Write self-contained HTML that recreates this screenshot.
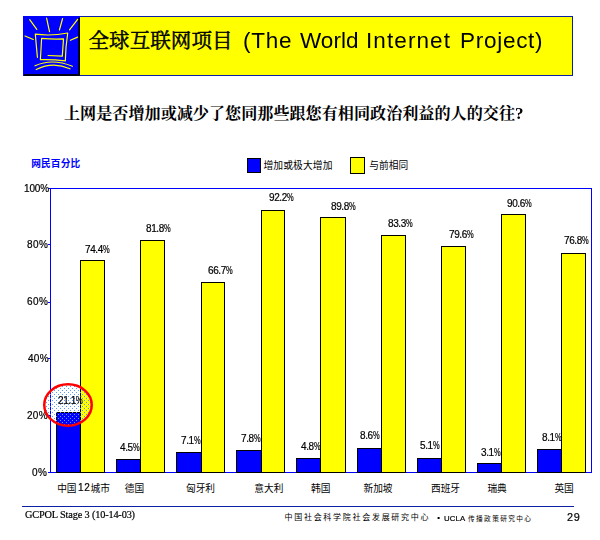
<!DOCTYPE html>
<html lang="zh"><head><meta charset="utf-8"><title>The World Internet Project</title><style>
html,body{margin:0;padding:0;background:#fff}
body{width:600px;height:540px;position:relative;overflow:hidden;font-family:"Liberation Sans",sans-serif;color:#000}
svg{position:absolute;left:0;top:0}
.t{position:absolute;white-space:nowrap;line-height:1;will-change:transform}
.s{-webkit-text-stroke:.2px #000}
.p{display:inline-block;transform:scaleX(.75);transform-origin:0 0;letter-spacing:0}
</style></head><body>
<svg width="600" height="540" viewBox="0 0 600 540">
<rect x="80" y="16" width="493" height="60" fill="#ffff00"/>
<rect x="23.5" y="16.5" width="549" height="59" fill="none" stroke="#0c20a4" stroke-width="1"/>
<rect x="23" y="16" width="57" height="60" fill="#0000ff"/>
<path d="M24 74h54v-56h2v58h-56z" fill="#000018"/>
<path d="M29.7 19.7L36.8 29.4M46.6 18.2L49.5 31.6M62.6 18.5L59.4 30M77.6 19.3L69.5 29.8M25 36L33.3 39.5M77.6 37.1L70.4 40.3M37.4 57.3L35.3 34.2Q51.5 36.3 67.7 33Q65.6 47 65.3 60.9Q52.8 59.3 40.4 59.7L41.6 38.3Q52.5 39.4 63.5 38.9L62.3 56.1L48.1 55.5M35 65.8Q52 58 72.4 66.2M36.2 69.5Q53 61.2 70 68.8" fill="none" stroke="#ffff00" stroke-width="1.2" stroke-linecap="round" stroke-linejoin="round"/>
<rect x="247.5" y="158.5" width="13" height="14" fill="#0000ff" stroke="#000"/>
<rect x="350.5" y="157.5" width="14" height="16" fill="#ffff00" stroke="#000"/>
<rect x="50.5" y="188.5" width="541" height="284" fill="none" stroke="#0000ff"/>
<rect x="48" y="472" width="2" height="1" fill="#0000ff"/>
<rect x="48" y="415" width="2" height="1" fill="#0000ff"/>
<rect x="48" y="358" width="2" height="1" fill="#0000ff"/>
<rect x="48" y="302" width="2" height="1" fill="#0000ff"/>
<rect x="48" y="244" width="2" height="1" fill="#0000ff"/>
<rect x="48" y="188" width="2" height="1" fill="#0000ff"/>
<rect x="56.5" y="412.5" width="24" height="60" fill="#0000ff" stroke="#000"/>
<rect x="80.5" y="260.5" width="24" height="212" fill="#ffff00" stroke="#000"/>
<rect x="116.5" y="459.5" width="24" height="13" fill="#0000ff" stroke="#000"/>
<rect x="140.5" y="240.5" width="24" height="232" fill="#ffff00" stroke="#000"/>
<rect x="176.5" y="452.5" width="25" height="20" fill="#0000ff" stroke="#000"/>
<rect x="201.5" y="282.5" width="23" height="190" fill="#ffff00" stroke="#000"/>
<rect x="236.5" y="450.5" width="25" height="22" fill="#0000ff" stroke="#000"/>
<rect x="261.5" y="210.5" width="23" height="262" fill="#ffff00" stroke="#000"/>
<rect x="296.5" y="458.5" width="24" height="14" fill="#0000ff" stroke="#000"/>
<rect x="320.5" y="217.5" width="25" height="255" fill="#ffff00" stroke="#000"/>
<rect x="357.5" y="448.5" width="24" height="24" fill="#0000ff" stroke="#000"/>
<rect x="381.5" y="235.5" width="24" height="237" fill="#ffff00" stroke="#000"/>
<rect x="417.5" y="458.5" width="24" height="14" fill="#0000ff" stroke="#000"/>
<rect x="441.5" y="246.5" width="24" height="226" fill="#ffff00" stroke="#000"/>
<rect x="477.5" y="463.5" width="24" height="9" fill="#0000ff" stroke="#000"/>
<rect x="501.5" y="214.5" width="24" height="258" fill="#ffff00" stroke="#000"/>
<rect x="537.5" y="449.5" width="24" height="23" fill="#0000ff" stroke="#000"/>
<rect x="561.5" y="253.5" width="24" height="219" fill="#ffff00" stroke="#000"/>
<rect x="22" y="506" width="552" height="1" fill="#0c20a4"/>
<rect x="437.6" y="517" width="2" height="2" fill="#000"/>
<text x="88.5" y="48" font-size="20.5" textLength="144" lengthAdjust="spacing" fill="#000" stroke="#000" stroke-width="0.5" font-family='"Liberation Serif","Noto Serif CJK SC",serif'>全球互联网项目</text>
<text x="64" y="119" font-size="16.1" font-weight="bold" textLength="451" lengthAdjust="spacing" fill="#000" font-family='"Liberation Serif","Noto Serif CJK SC",serif'>上网是否增加或减少了您同那些跟您有相同政治利益的人的交往</text>
<text x="31.3" y="166.8" font-size="9.7" font-weight="bold" textLength="48.8" lengthAdjust="spacing" fill="#0000ff" font-family='"Liberation Sans","Noto Sans CJK SC",sans-serif'>网民百分比</text>
<text x="263.5" y="169.3" font-size="9.8" textLength="69" lengthAdjust="spacing" fill="#000" font-family='"Liberation Sans","Noto Sans CJK SC",sans-serif'>增加或极大增加</text>
<text x="369.3" y="169.3" font-size="9.7" textLength="38.8" lengthAdjust="spacing" fill="#000" font-family='"Liberation Sans","Noto Sans CJK SC",sans-serif'>与前相同</text>
<g font-size="9.7" fill="#000" font-family='"Liberation Sans","Noto Sans CJK SC",sans-serif'>
<text x="57.2" y="491.6">中国</text>
<text x="90.5" y="491.6">城市</text>
<text x="124.8" y="491.6">德国</text>
<text x="186" y="491.6">匈牙利</text>
<text x="254.3" y="491.6">意大利</text>
<text x="311" y="491.6">韩国</text>
<text x="363.5" y="491.6">新加坡</text>
<text x="431" y="491.6">西班牙</text>
<text x="487.4" y="491.6">瑞典</text>
<text x="554.4" y="491.6">英国</text>
</g>
<text x="284.5" y="520.3" font-size="8" textLength="144" lengthAdjust="spacing" fill="#000" font-family='"Liberation Sans","Noto Sans CJK SC",sans-serif'>中国社会科学院社会发展研究中心</text>
<text x="468" y="520.8" font-size="6.7" textLength="63" lengthAdjust="spacing" fill="#000" font-family='"Liberation Sans","Noto Sans CJK SC",sans-serif'>传播政策研究中心</text>
</svg>
<div class="t s" style="left:31.51px;top:468px;font-size:10px;letter-spacing:0.39px">0%</div>
<div class="t s" style="left:27.40px;top:411px;font-size:10px;letter-spacing:0.27px">20%</div>
<div class="t s" style="left:27.67px;top:354px;font-size:10px;letter-spacing:0.29px">40%</div>
<div class="t s" style="left:27.39px;top:297px;font-size:10px;letter-spacing:0.42px">60%</div>
<div class="t s" style="left:27.47px;top:240px;font-size:10px;letter-spacing:0.39px">80%</div>
<div class="t s" style="left:24.04px;top:184px;font-size:10px;letter-spacing:-0.15px">100%</div>
<svg width="600" height="540" viewBox="0 0 600 540"><defs><pattern id="dots" width="4" height="4" patternUnits="userSpaceOnUse"><rect x="0" y="0" width="1" height="1" fill="#5a9bff"/><rect x="2" y="2" width="1" height="1" fill="#5a9bff"/></pattern></defs><ellipse cx="68" cy="405" rx="23.75" ry="20.75" fill="url(#dots)" stroke="#ff0000" stroke-width="2.5"/></svg>
<div class="t" style="left:243.30px;top:30px;font-size:22.5px;letter-spacing:0.74px">(The</div>
<div class="t" style="left:300.00px;top:30px;font-size:22.5px;letter-spacing:0.02px">World</div>
<div class="t" style="left:366.22px;top:30px;font-size:22.5px;letter-spacing:1.09px">Internet</div>
<div class="t" style="left:459.85px;top:30px;font-size:22.5px;letter-spacing:0.72px">Project)</div>
<div class="t" style="left:515.27px;top:105px;font-size:17px;font-family:'Liberation Serif',serif;font-weight:bold">?</div>
<div class="t s" style="left:85.16px;top:245px;font-size:10px;letter-spacing:-0.40px">74.4<span class="p">%</span></div>
<div class="t s" style="left:146.00px;top:224px;font-size:10px;letter-spacing:-0.40px">81.8<span class="p">%</span></div>
<div class="t s" style="left:208.46px;top:266px;font-size:10px;letter-spacing:-0.40px">66.7<span class="p">%</span></div>
<div class="t s" style="left:269.18px;top:193px;font-size:10px;letter-spacing:-0.40px">92.2<span class="p">%</span></div>
<div class="t s" style="left:330.70px;top:202px;font-size:10px;letter-spacing:-0.40px">89.8<span class="p">%</span></div>
<div class="t s" style="left:387.70px;top:219px;font-size:10px;letter-spacing:-0.40px">83.3<span class="p">%</span></div>
<div class="t s" style="left:449.06px;top:230px;font-size:10px;letter-spacing:-0.40px">79.6<span class="p">%</span></div>
<div class="t s" style="left:506.98px;top:199px;font-size:10px;letter-spacing:-0.40px">90.6<span class="p">%</span></div>
<div class="t s" style="left:564.06px;top:236px;font-size:10px;letter-spacing:-0.40px">76.8<span class="p">%</span></div>
<div class="t s" style="left:57.66px;top:396px;font-size:10px;letter-spacing:-0.40px">21.1<span class="p">%</span></div>
<div class="t s" style="left:120.08px;top:443px;font-size:10px;letter-spacing:-0.40px">4.5<span class="p">%</span></div>
<div class="t s" style="left:180.54px;top:436px;font-size:10px;letter-spacing:-0.40px">7.1<span class="p">%</span></div>
<div class="t s" style="left:240.94px;top:434px;font-size:10px;letter-spacing:-0.40px">7.8<span class="p">%</span></div>
<div class="t s" style="left:300.88px;top:442px;font-size:10px;letter-spacing:-0.40px">4.8<span class="p">%</span></div>
<div class="t s" style="left:359.98px;top:431px;font-size:10px;letter-spacing:-0.40px">8.6<span class="p">%</span></div>
<div class="t s" style="left:419.79px;top:441px;font-size:10px;letter-spacing:-0.40px">5.1<span class="p">%</span></div>
<div class="t s" style="left:480.80px;top:448px;font-size:10px;letter-spacing:-0.40px">3.1<span class="p">%</span></div>
<div class="t s" style="left:542.28px;top:433px;font-size:10px;letter-spacing:-0.40px">8.1<span class="p">%</span></div>
<div class="t s" style="left:77.64px;top:483px;font-size:10px;letter-spacing:0.74px">12</div>
<div class="t s" style="left:24.58px;top:510px;font-size:10.3px;font-family:'Liberation Serif',serif;letter-spacing:-0.16px">GCPOL Stage 3 (10-14-03)</div>
<div class="t s" style="left:444.40px;top:515px;font-size:7.8px;letter-spacing:0.14px">UCLA</div>
<div class="t s" style="left:566.95px;top:512px;font-size:10.9px;letter-spacing:0.64px">29</div>
</body></html>
